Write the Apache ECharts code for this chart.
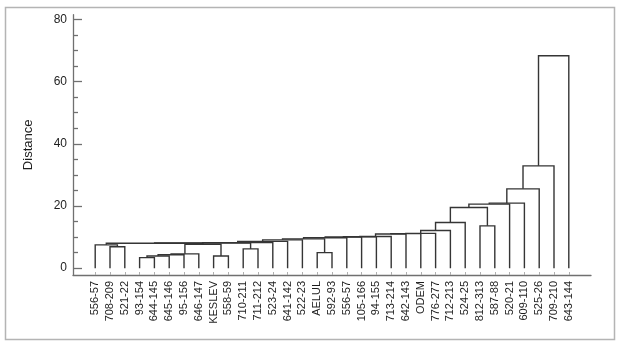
<!DOCTYPE html>
<html>
<head>
<meta charset="utf-8">
<script src="https://cdn.jsdelivr.net/npm/echarts@6/dist/echarts.min.js"></script>
<style>
  html, body { margin: 0; padding: 0; background: #fff; }
  #chart { width: 620px; height: 343px; }
</style>
</head>
<body>
<div id="chart"></div>
<script>
// Leaf labels, in the order they appear along the bottom of the tree
const leafLabels = [
  '556-57', '708-209', '521-22', '93-154', '644-145', '645-146', '95-156', '646-147',
  'KESLEV', '558-59', '710-211', '711-212', '523-24', '641-142', '522-23', 'AELUL',
  '592-93', '556-57', '105-166', '94-155', '713-214', '642-143', 'ODEM', '776-277',
  '712-213', '524-25', '812-313', '587-88', '520-21', '609-110', '525-26', '709-210',
  '643-144'
];

// Linkage table: [left id, right id, joining distance].
// Ids below 33 are leaves; id 33 + k is the cluster formed by row k.
const linkage = [
  [1, 2, 6.9],
  [0, 33, 7.5],
  [3, 4, 3.4],
  [35, 5, 3.9],
  [36, 6, 4.3],
  [37, 7, 4.6],
  [8, 9, 3.9],
  [38, 39, 7.7],
  [10, 11, 6.2],
  [34, 40, 8.0],
  [42, 41, 8.1],
  [43, 12, 8.2],
  [44, 13, 8.6],
  [45, 14, 9.1],
  [15, 16, 5.0],
  [46, 47, 9.4],
  [48, 17, 9.8],
  [49, 18, 10.0],
  [50, 19, 10.1],
  [51, 20, 10.2],
  [52, 21, 11.0],
  [53, 22, 11.1],
  [54, 23, 11.2],
  [55, 24, 12.1],
  [56, 25, 14.7],
  [26, 27, 13.6],
  [57, 58, 19.5],
  [59, 28, 20.6],
  [60, 29, 20.9],
  [61, 30, 25.5],
  [62, 31, 32.9],
  [63, 32, 68.3]
];

const yMajorTicks = [0, 20, 40, 60, 80];
const yMinorTicks = [5, 10, 15, 25, 30, 35, 45, 50, 55, 65, 70, 75];
const yTitle = 'Distance';

// Walk the linkage: every cluster sits midway between its two children
const nLeaves = leafLabels.length;
const nodeX = leafLabels.map((_, i) => i);
const nodeH = leafLabels.map(() => 0);
const links = [];
linkage.forEach(([a, b, h], k) => {
  links.push([nodeX[a], nodeH[a], nodeX[b], nodeH[b], h]);
  nodeX[nLeaves + k] = (nodeX[a] + nodeX[b]) / 2;
  nodeH[nLeaves + k] = h;
});
const leafIdx = leafLabels.map((_, i) => i);

const FONT = '"Liberation Sans", Arial, sans-serif';
const AXIS_GREY = '#707070';
const INK = '#1e1e1e';
const Y_MIN = -2.2, Y_MAX = 81.5;

// Helper for the tick-only companion axes sharing the main distance scale
const tickAxis = (values, len) => ({
  type: 'value',
  min: Y_MIN,
  max: Y_MAX,
  position: 'left',
  offset: 0,
  axisLine: { show: false, onZero: false },
  axisTick: { show: true, inside: true, length: len, customValues: values,
              lineStyle: { color: AXIS_GREY, width: 1.3 } },
  axisLabel: { show: false },
  splitLine: { show: false }
});

const chart = echarts.init(document.getElementById('chart'), null, { renderer: 'canvas' });
chart.setOption({
  animation: false,
  backgroundColor: '#fff',
  grid: { left: 73, right: 29, top: 14.7, bottom: 68 },
  xAxis: {
    type: 'value',
    min: -1.5,
    max: 33.5,
    axisLine: { show: true, onZero: false, lineStyle: { color: AXIS_GREY, width: 1.3 } },
    axisTick: { show: true, inside: true, length: 3, customValues: leafIdx,
                lineStyle: { color: '#b0b0b0' } },
    axisLabel: {
      customValues: leafIdx,
      formatter: v => leafLabels[Math.round(v)],
      rotate: 90,
      margin: 6,
      fontSize: 11,
      fontFamily: FONT,
      color: INK
    },
    splitLine: { show: false }
  },
  yAxis: [
    {
      type: 'value',
      min: Y_MIN,
      max: Y_MAX,
      name: yTitle,
      nameLocation: 'middle',
      nameGap: 38,
      nameTextStyle: { fontSize: 13, fontFamily: FONT, color: INK },
      axisLine: { show: true, onZero: false, lineStyle: { color: AXIS_GREY, width: 1.3 } },
      axisTick: { show: false },
      axisLabel: { customValues: yMajorTicks, margin: 6, fontSize: 12,
                   fontFamily: FONT, color: INK },
      splitLine: { show: false }
    },
    tickAxis(yMajorTicks, 9),
    tickAxis(yMinorTicks, 5)
  ],
  graphic: [{
    type: 'rect',
    shape: { x: 5.5, y: 7.5, width: 609, height: 332 },
    style: { fill: 'none', stroke: '#b4b4b4', lineWidth: 1.5 },
    silent: true
  }],
  series: [{
    type: 'custom',
    coordinateSystem: 'cartesian2d',
    clip: false,
    encode: { x: [0, 2], y: [1, 3, 4] },
    data: links,
    renderItem: (params, api) => {
      const lx = api.value(0), lh = api.value(1);
      const rx = api.value(2), rh = api.value(3);
      const h = api.value(4);
      return {
        type: 'polyline',
        shape: { points: [
          api.coord([lx, lh]), api.coord([lx, h]),
          api.coord([rx, h]), api.coord([rx, rh])
        ] },
        style: { stroke: '#353535', lineWidth: 1.4, fill: null }
      };
    }
  }]
});
</script>
</body>
</html>
